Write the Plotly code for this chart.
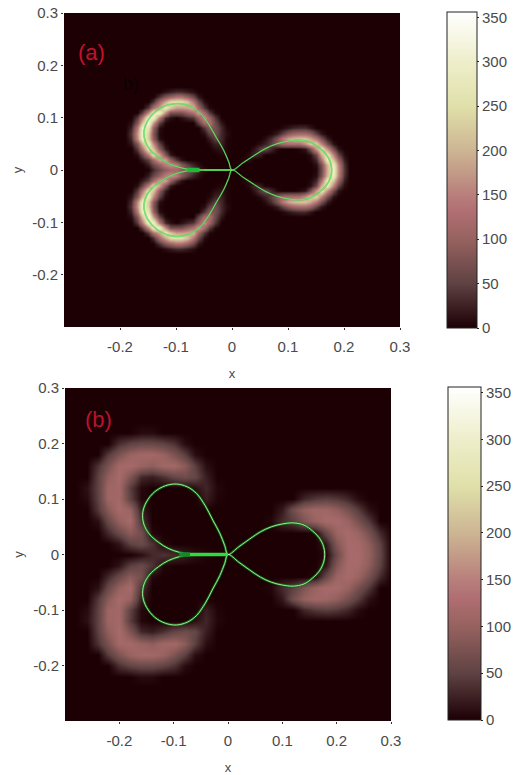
import plotly.graph_objects as go

# ---------- shared curve ----------
curve_x = [0, 0.02, 0.04, 0.06, 0.08, 0.10, 0.12, 0.14, 0.155, 0.168, 0.176, 0.178,
           0.176, 0.168, 0.155, 0.14, 0.12, 0.10, 0.08, 0.06, 0.04, 0.02, 0,
           -0.006, -0.015, -0.028, -0.042, -0.058, -0.075, -0.095, -0.115, -0.135, -0.15, -0.157,
           -0.155, -0.145, -0.128, -0.11, -0.09, -0.075, -0.05,
           -0.075, -0.09, -0.11, -0.128, -0.145, -0.155,
           -0.157, -0.15, -0.135, -0.115, -0.095, -0.075, -0.058, -0.042, -0.028, -0.015, -0.006, 0]
curve_y = [0, 0.014, 0.028, 0.041, 0.05, 0.055, 0.057, 0.053, 0.043, 0.03, 0.014, 0,
           -0.014, -0.03, -0.043, -0.053, -0.057, -0.055, -0.05, -0.041, -0.028, -0.014, 0,
           -0.016, -0.038, -0.062, -0.088, -0.11, -0.122, -0.127, -0.124, -0.113, -0.095, -0.075,
           -0.055, -0.037, -0.022, -0.011, -0.004, -0.001, 0,
           0.001, 0.004, 0.011, 0.022, 0.037, 0.055,
           0.075, 0.095, 0.113, 0.124, 0.127, 0.122, 0.11, 0.088, 0.062, 0.038, 0.016, 0]
stem_x = [-0.05, 0]
stem_y = [0, 0]
stem_b_x = [-0.07, 0]
stub_a_x = [-0.08, -0.058]
stub_b_x = [-0.09, -0.07]
stub_y = [0, 0]

tick_vals_x = [-0.2, -0.1, 0, 0.1, 0.2, 0.3]
tick_text_x = ["-0.2", "-0.1", "0", "0.1", "0.2", "0.3"]
tick_vals_y = [-0.2, -0.1, 0, 0.1, 0.2, 0.3]
tick_text_y = ["-0.2", "-0.1", "0", "0.1", "0.2", "0.3"]
bar_ticks = [0, 50, 100, 150, 200, 250, 300, 350]

# ---------- panel (a) field: upper half, mirrored about y=0 ----------
a_x = [-0.20, -0.19, -0.18, -0.17, -0.16, -0.15, -0.14, -0.13, -0.12, -0.11, -0.10,
       -0.09, -0.08, -0.07, -0.06, -0.05, -0.04, -0.03, -0.02, -0.01, 0,
       0.01, 0.02, 0.03, 0.04, 0.05, 0.06, 0.07, 0.08, 0.09, 0.10, 0.11,
       0.12, 0.13, 0.14, 0.15, 0.16, 0.17, 0.18, 0.19, 0.20, 0.21, 0.22]
a_y_up = [0, 0.01, 0.02, 0.03, 0.04, 0.05, 0.06, 0.07, 0.08, 0.09, 0.10, 0.11, 0.12, 0.13, 0.14, 0.15, 0.16]
a_rows_up = [
 [0,0,0,0,0,0,30,60,90,110,120,100,80,50,25,10,0,0,0,0,0, 0,0,0,0,0,0,0,0,0,0,0,0,0,0,5,60,200,300,160,40,0,0],
 [0,0,0,0,0,20,60,100,150,170,150,90,50,25,10,0,0,0,0,0,0, 0,0,0,0,0,0,0,0,0,0,0,0,0,0,10,70,210,290,150,35,0,0],
 [0,0,0,0,20,50,120,190,190,100,40,10,0,0,0,0,0,0,0,0,0, 0,5,10,0,0,0,0,0,0,0,0,0,0,5,30,130,290,220,105,20,0,0],
 [0,0,0,10,60,150,260,190,80,15,0,0,0,0,0,0,0,0,5,5,0, 0,0,10,30,20,0,0,0,0,0,0,0,0,10,60,200,280,155,55,8,0,0],
 [0,0,0,45,140,270,220,90,20,0,0,0,0,0,0,0,0,10,15,5,0, 0,0,0,15,45,60,30,5,0,0,0,5,15,70,180,270,165,65,12,0,0,0],
 [0,0,15,80,210,290,160,50,5,0,0,0,0,0,0,0,5,25,25,5,0, 0,0,0,0,10,25,50,90,120,130,130,130,170,230,235,155,65,12,0,0,0,0],
 [0,0,30,160,300,230,90,10,0,0,0,0,0,0,0,0,20,50,30,5,0, 0,0,0,0,0,10,35,80,140,190,210,220,220,190,140,75,20,0,0,0,0,0],
 [0,0,40,170,310,230,80,5,0,0,0,0,0,0,0,10,50,70,30,10,0, 0,0,0,0,0,0,5,20,50,90,110,120,120,100,50,15,0,0,0,0,0,0],
 [0,0,25,140,300,270,100,10,0,0,0,0,0,0,0,40,90,70,30,5,0, 0,0,0,0,0,0,0,0,5,15,25,30,30,15,0,0,0,0,0,0,0,0],
 [0,0,10,80,220,330,175,50,5,0,0,0,0,0,50,120,130,60,15,0,0, 0,0,0,0,0,0,0,0,0,0,0,0,0,0,0,0,0,0,0,0,0,0],
 [0,0,0,45,145,300,300,140,30,10,0,10,25,40,100,170,110,40,0,0,0, 0,0,0,0,0,0,0,0,0,0,0,0,0,0,0,0,0,0,0,0,0,0],
 [0,0,0,0,50,160,290,300,165,70,70,70,100,130,190,120,45,5,0,0,0, 0,0,0,0,0,0,0,0,0,0,0,0,0,0,0,0,0,0,0,0,0,0],
 [0,0,0,0,0,40,130,190,280,225,180,180,190,210,110,40,5,0,0,0,0, 0,0,0,0,0,0,0,0,0,0,0,0,0,0,0,0,0,0,0,0,0,0],
 [0,0,0,0,0,0,35,120,190,250,260,255,220,140,60,10,0,0,0,0,0, 0,0,0,0,0,0,0,0,0,0,0,0,0,0,0,0,0,0,0,0,0,0],
 [0,0,0,0,0,0,0,35,80,105,130,130,100,60,15,0,0,0,0,0,0, 0,0,0,0,0,0,0,0,0,0,0,0,0,0,0,0,0,0,0,0,0,0],
 [0,0,0,0,0,0,0,0,10,20,30,30,20,10,0,0,0,0,0,0,0, 0,0,0,0,0,0,0,0,0,0,0,0,0,0,0,0,0,0,0,0,0,0],
 [0,0,0,0,0,0,0,0,0,0,0,0,0,0,0,0,0,0,0,0,0, 0,0,0,0,0,0,0,0,0,0,0,0,0,0,0,0,0,0,0,0,0,0],
]

# ---------- panel (b) field ----------
b_x = [-0.30, -0.28, -0.26, -0.24, -0.22, -0.20, -0.18, -0.16, -0.14, -0.12, -0.10, -0.08, -0.06, -0.04, -0.02, 0,
       0.02, 0.04, 0.06, 0.08, 0.10, 0.12, 0.14, 0.16, 0.18, 0.20, 0.22, 0.24, 0.26, 0.28, 0.30]
b_y_up = [0, 0.02, 0.04, 0.06, 0.08, 0.10, 0.12, 0.14, 0.16, 0.18, 0.20, 0.22, 0.24]
b_rows_up = [
 [0,0,0,0,0,0,0,10,30,38,32,22,10,4,0, 0, 0,0,0,0,0,0,0,0,5,65,118,122,98,55,0],
 [0,0,0,0,0,15,50,62,38,5,0,0,0,0,0, 0, 0,0,0,0,0,0,0,0,18,85,120,118,92,50,0],
 [0,0,0,0,30,62,90,70,5,0,0,0,0,0,0, 0, 0,0,0,0,0,0,0,5,60,108,120,105,72,30,0],
 [0,0,0,12,60,100,120,38,0,0,0,0,0,0,0, 0, 0,0,0,5,32,48,80,104,120,120,102,72,40,0,0],
 [0,0,0,42,88,120,104,22,0,0,0,0,0,0,0, 0, 0,0,0,0,18,68,100,112,110,96,72,45,12,0,0],
 [0,0,8,50,108,114,52,6,0,0,0,0,0,22,3, 0, 0,0,0,0,0,0,28,42,48,42,28,8,0,0,0],
 [0,0,12,52,108,114,46,6,0,0,0,0,12,28,5, 0, 0,0,0,0,0,0,0,0,0,0,0,0,0,0,0],
 [0,0,0,50,96,120,80,30,22,36,56,66,56,22,0, 0, 0,0,0,0,0,0,0,0,0,0,0,0,0,0,0],
 [0,0,0,38,75,115,118,104,94,112,115,90,48,10,0, 0, 0,0,0,0,0,0,0,0,0,0,0,0,0,0,0],
 [0,0,0,0,45,78,104,115,115,104,78,48,10,0,0, 0, 0,0,0,0,0,0,0,0,0,0,0,0,0,0,0],
 [0,0,0,0,0,35,52,60,60,52,38,8,0,0,0, 0, 0,0,0,0,0,0,0,0,0,0,0,0,0,0,0],
 [0,0,0,0,0,0,0,8,8,0,0,0,0,0,0, 0, 0,0,0,0,0,0,0,0,0,0,0,0,0,0,0],
 [0,0,0,0,0,0,0,0,0,0,0,0,0,0,0, 0, 0,0,0,0,0,0,0,0,0,0,0,0,0,0,0],
]

def mirrored(ys, rows):
    return [-v for v in ys[:0:-1]] + ys, rows[:0:-1] + rows

a_y, a_z = mirrored(a_y_up, a_rows_up)
b_y, b_z = mirrored(b_y_up, b_rows_up)

ZMAX = 356
BG = "#1c0004"
scale = [[0, BG], [50/ZMAX, "#5f4243"], [100/ZMAX, "#96625f"], [130/ZMAX, "#b06e72"],
         [150/ZMAX, "#b87f7c"], [200/ZMAX, "#cdb593"], [250/ZMAX, "#e0e0aa"],
         [300/ZMAX, "#eeeecb"], [1, "#ffffff"]]

FONT = "Liberation Sans, sans-serif"
GREY = "#4a4a4a"
W, H = 519, 775

def bar(x0, x1, ytop, ybot):
    return dict(x=x0/W, xanchor="left", thickness=x1-x0, thicknessmode="pixels", xpad=0, ypad=0,
                y=1-ybot/H, yanchor="bottom", len=(ybot-ytop)/H, lenmode="fraction",
                outlinecolor="#222222", outlinewidth=1, tickvals=bar_ticks,
                ticks="outside", ticklen=2, tickcolor="#222222",
                tickfont=dict(family=FONT, size=15, color=GREY))

fig = go.Figure()
fig.add_trace(go.Heatmap(x=a_x, y=a_y, z=a_z, zmin=0, zmax=ZMAX, colorscale=scale, zsmooth="best",
                         colorbar=bar(447, 477, 12, 328), xaxis="x", yaxis="y"))
fig.add_trace(go.Heatmap(x=b_x, y=b_y, z=b_z, zmin=0, zmax=ZMAX, colorscale=scale, zsmooth="best",
                         colorbar=bar(448, 481, 387, 720), xaxis="x2", yaxis="y2"))

# curves
for xa, ya, halo, core, hw in [("x", "y", "rgba(50,190,60,0.55)", "#6fe86e", 1.6),
                               ("x2", "y2", "rgba(0,130,20,0.75)", "#b8f5a8", 2.6)]:
    fig.add_trace(go.Scatter(x=curve_x, y=curve_y, mode="lines", xaxis=xa, yaxis=ya, showlegend=False,
                             line=dict(color=halo, width=hw, shape="spline", smoothing=1.0)))
    fig.add_trace(go.Scatter(x=curve_x, y=curve_y, mode="lines", xaxis=xa, yaxis=ya, showlegend=False,
                             line=dict(color=core, width=0.9, shape="spline", smoothing=1.0)))
fig.add_trace(go.Scatter(x=stem_x, y=stem_y, mode="lines", xaxis="x", yaxis="y", showlegend=False,
                         line=dict(color="#58e858", width=1.8)))
fig.add_trace(go.Scatter(x=stub_a_x, y=stub_y, mode="lines", xaxis="x", yaxis="y", showlegend=False,
                         line=dict(color="#22b838", width=4.5)))
fig.add_trace(go.Scatter(x=stem_b_x, y=stem_y, mode="lines", xaxis="x2", yaxis="y2", showlegend=False,
                         line=dict(color="#2edc3c", width=3.5)))
fig.add_trace(go.Scatter(x=stub_b_x, y=stub_y, mode="lines", xaxis="x2", yaxis="y2", showlegend=False,
                         line=dict(color="#148a28", width=4.5)))

def axis(domain, vals, text, title, anchor, standoff, label_gap):
    return dict(domain=domain, range=[-0.3, 0.3], tickvals=vals, ticktext=text, ticks="outside", ticklen=2,
                tickcolor="#333333", showgrid=False, zeroline=False, showline=False, anchor=anchor,
                automargin=False, ticklabelstandoff=label_gap,
                tickfont=dict(family=FONT, size=15, color=GREY),
                title=dict(text=title, font=dict(family=FONT, size=13, color=GREY), standoff=standoff))

fig.update_layout(
    width=W, height=H, autosize=False,
    margin=dict(l=0, r=0, t=0, b=0, autoexpand=False),
    paper_bgcolor="white", plot_bgcolor=BG, showlegend=False,
    xaxis=axis([64/W, 400/W], tick_vals_x, tick_text_x, "x", "y", 14, 4),
    yaxis=axis([1-327/H, 1-13/H], tick_vals_y, tick_text_y, "y", "x", 6, 0),
    xaxis2=axis([65/W, 391/W], tick_vals_x, tick_text_x, "x", "y2", 14, 4),
    yaxis2=axis([1-721/H, 1-388/H], tick_vals_y, tick_text_y, "y", "x2", 6, 0),
    annotations=[
        dict(text="(a)", xref="paper", yref="paper", x=91/W, y=1-52/H, showarrow=False,
             xanchor="center", yanchor="middle", font=dict(family=FONT, size=22, color="#c4122c")),
        dict(text="(b)", xref="paper", yref="paper", x=98/W, y=1-419/H, showarrow=False,
             xanchor="center", yanchor="middle", font=dict(family=FONT, size=22, color="#b8142c")),
        dict(text="b)", xref="paper", yref="paper", x=131/W, y=1-84/H, showarrow=False,
             xanchor="center", yanchor="middle", font=dict(family=FONT, size=18, color="#0e0002")),
    ],
)

fig.write_html("out.html", config={"displayModeBar": False},
               post_script="document.body.style.margin='0';")
